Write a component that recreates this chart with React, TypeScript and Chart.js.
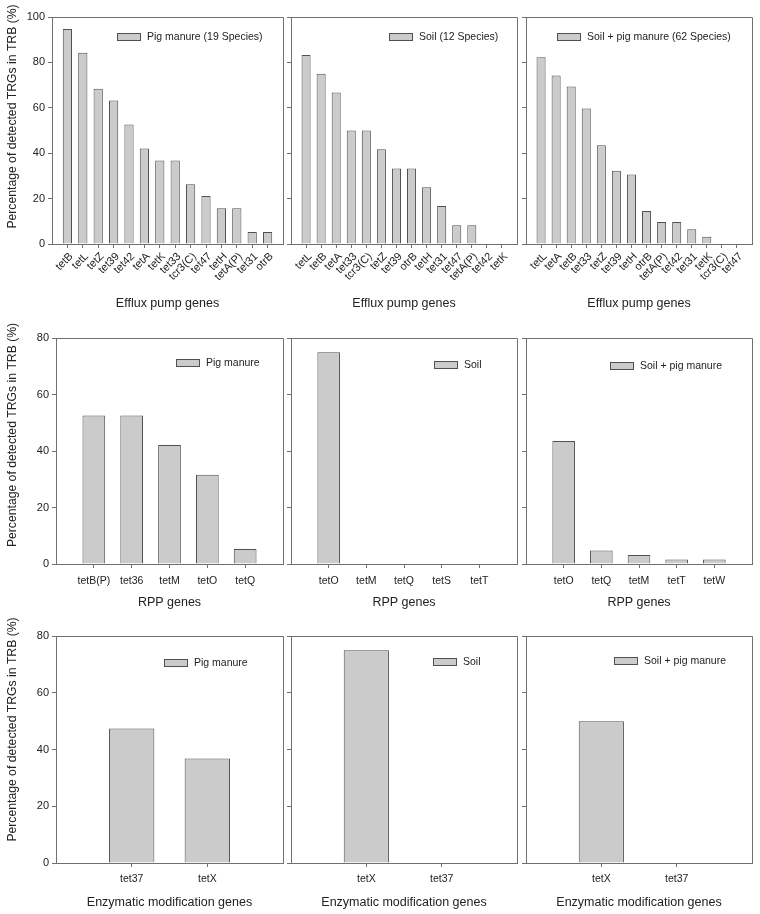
import React, { useEffect, useRef } from 'react';
import { Chart, registerables } from 'chart.js';

Chart.register(...registerables);

// ---------- Data ----------
// Row 1: efflux pump genes
const effluxPigGenes = ['tetB', 'tetL', 'tetZ', 'tet39', 'tet42', 'tetA', 'tetK', 'tet33', 'tcr3(C)', 'tet47', 'tetH', 'tetA(P)', 'tet31', 'otrB'];
const effluxPigValues = [94.7, 84.2, 68.4, 63.2, 52.6, 42.1, 36.8, 36.8, 26.3, 21.1, 15.8, 15.8, 5.3, 5.3];
const effluxSoilGenes = ['tetL', 'tetB', 'tetA', 'tet33', 'tcr3(C)', 'tetZ', 'tet39', 'otrB', 'tetH', 'tet31', 'tet47', 'tetA(P)', 'tet42', 'tetK'];
const effluxSoilValues = [83.3, 75.0, 66.7, 50.0, 50.0, 41.7, 33.3, 33.3, 25.0, 16.7, 8.3, 8.3, 0, 0];
const effluxMixGenes = ['tetL', 'tetA', 'tetB', 'tet33', 'tetZ', 'tet39', 'tetH', 'otrB', 'tetA(P)', 'tet42', 'tet31', 'tetK', 'tcr3(C)', 'tet47'];
const effluxMixValues = [82.3, 74.2, 69.4, 59.7, 43.5, 32.3, 30.6, 14.5, 9.7, 9.7, 6.5, 3.2, 0, 0];

// Row 2: ribosomal protection protein genes
const rppPigGenes = ['tetB(P)', 'tet36', 'tetM', 'tetO', 'tetQ'];
const rppPigValues = [52.6, 52.6, 42.1, 31.6, 5.3];
const rppSoilGenes = ['tetO', 'tetM', 'tetQ', 'tetS', 'tetT'];
const rppSoilValues = [75.0, 0, 0, 0, 0];
const rppMixGenes = ['tetO', 'tetQ', 'tetM', 'tetT', 'tetW'];
const rppMixValues = [43.5, 4.8, 3.2, 1.6, 1.6];

// Row 3: enzymatic modification genes
const enzPigGenes = ['tet37', 'tetX'];
const enzPigValues = [47.4, 36.8];
const enzSoilGenes = ['tetX', 'tet37'];
const enzSoilValues = [75.0, 0];
const enzMixGenes = ['tetX', 'tet37'];
const enzMixValues = [50.0, 0];

const legendRow1 = ['Pig manure (19 Species)', 'Soil (12 Species)', 'Soil + pig manure (62 Species)'];
const legendRows23 = ['Pig manure', 'Soil', 'Soil + pig manure'];
const xTitles = ['Efflux pump genes', 'RPP genes', 'Enzymatic modification genes'];
const yTitle = 'Percentage of detected TRGs in TRB (%)';
const yMaxByRow = [100, 80, 80];
const yStep = 20;

// ---------- Styling / layout ----------
const FONT = '"Liberation Sans", Arial, sans-serif';
const AXIS = '#707070';
const BAR_FILL = '#cbcbcb';
const BAR_BORDER = '#505050';
const TEXT = '#222222';

type RowLayout = {
  canvasTop: number; plotTop: number; canvasHeight: number; plotBottom: number;
  rotation: number; tickFont: number; tickLen: number; tickPad: number; labelOffset: number; yTitleShift: number;
};
const rows: RowLayout[] = [
  { canvasTop: 0, plotTop: 17, plotBottom: 244, canvasHeight: 311, rotation: 45, tickFont: 11, tickLen: 4, tickPad: 2, labelOffset: 4, yTitleShift: -14 },
  { canvasTop: 312, plotTop: 338, plotBottom: 564, canvasHeight: 298, rotation: 0, tickFont: 10.5, tickLen: 4, tickPad: 7, labelOffset: 0, yTitleShift: -16 },
  { canvasTop: 612, plotTop: 636, plotBottom: 863, canvasHeight: 298, rotation: 0, tickFont: 10.5, tickLen: 4, tickPad: 6, labelOffset: 0, yTitleShift: -20 },
];

type ColLayout = { canvasLeft: number; width: number; yAxisWidth: number[] };
const cols: ColLayout[] = [
  { canvasLeft: 0, width: 286, yAxisWidth: [52, 56, 56] },
  { canvasLeft: 262, width: 258, yAxisWidth: [29, 29, 29] },
  { canvasLeft: 497, width: 258, yAxisWidth: [29, 29, 29] },
];

// legend box offset relative to plot area (left, top)
const legendOffsets = [
  [[65, 16], [98, 16], [31, 16]],
  [[120, 21], [143, 23], [84, 24]],
  [[108, 23], [142, 22], [88, 21]],
];

type PanelSpec = { row: number; col: number; genes: string[]; values: number[]; legend: string };
const panels: PanelSpec[] = [
  { row: 0, col: 0, genes: effluxPigGenes, values: effluxPigValues, legend: legendRow1[0] },
  { row: 0, col: 1, genes: effluxSoilGenes, values: effluxSoilValues, legend: legendRow1[1] },
  { row: 0, col: 2, genes: effluxMixGenes, values: effluxMixValues, legend: legendRow1[2] },
  { row: 1, col: 0, genes: rppPigGenes, values: rppPigValues, legend: legendRows23[0] },
  { row: 1, col: 1, genes: rppSoilGenes, values: rppSoilValues, legend: legendRows23[1] },
  { row: 1, col: 2, genes: rppMixGenes, values: rppMixValues, legend: legendRows23[2] },
  { row: 2, col: 0, genes: enzPigGenes, values: enzPigValues, legend: legendRows23[0] },
  { row: 2, col: 1, genes: enzSoilGenes, values: enzSoilValues, legend: legendRows23[1] },
  { row: 2, col: 2, genes: enzMixGenes, values: enzMixValues, legend: legendRows23[2] },
];

const align = (p: number) => Math.round(p - 0.5) + 0.5;

const decorPlugin = {
  id: 'panelDecor',
  afterDraw(chart: any, _args: any, opts: any) {
    const { ctx, chartArea: a } = chart;
    ctx.save();
    // frame: top and right
    ctx.strokeStyle = AXIS;
    ctx.lineWidth = 1;
    ctx.beginPath();
    ctx.moveTo(align(a.left), align(a.top));
    ctx.lineTo(align(a.right), align(a.top));
    ctx.lineTo(align(a.right), align(a.bottom));
    ctx.stroke();
    // legend
    const bx = Math.round(a.left + opts.dx);
    const by = Math.round(a.top + opts.dy);
    const bw = 24, bh = 8;
    ctx.fillStyle = BAR_FILL;
    ctx.fillRect(bx, by, bw, bh);
    ctx.strokeStyle = BAR_BORDER;
    ctx.strokeRect(bx + 0.5, by + 0.5, bw - 1, bh - 1);
    ctx.fillStyle = TEXT;
    ctx.font = `10.5px ${FONT}`;
    ctx.textAlign = 'left';
    ctx.textBaseline = 'middle';
    ctx.fillText(opts.text, bx + bw + 6, by + bh / 2 + 0.5);
    // y title
    if (opts.yTitle) {
      ctx.translate(opts.yTitleX, (a.top + a.bottom) / 2 + opts.yTitleShift);
      ctx.rotate(-Math.PI / 2);
      ctx.font = `12.2px ${FONT}`;
      ctx.textAlign = 'center';
      ctx.textBaseline = 'middle';
      ctx.fillText(opts.yTitle, 0, 0);
    }
    ctx.restore();
  },
};

function Panel({ spec }: { spec: PanelSpec }) {
  const ref = useRef<HTMLCanvasElement>(null);
  const r = rows[spec.row];
  const c = cols[spec.col];
  useEffect(() => {
    const labels = ['', ...spec.genes, ''];
    const data = [null, ...spec.values, null];
    const n = labels.length;
    const [dx, dy] = legendOffsets[spec.row][spec.col];
    const chart = new Chart(ref.current as HTMLCanvasElement, {
      type: 'bar',
      data: {
        labels,
        datasets: [{
          data: data as any,
          backgroundColor: BAR_FILL,
          borderColor: BAR_BORDER,
          borderWidth: 1,
          barPercentage: 0.6,
          categoryPercentage: 1,
        }],
      },
      options: {
        animation: false,
        responsive: false,
        devicePixelRatio: 1,
        layout: { padding: { top: r.plotTop - r.canvasTop, right: 3, left: 0, bottom: 0 } },
        plugins: {
          legend: { display: false },
          tooltip: { enabled: false },
          panelDecor: {
            dx, dy, text: spec.legend,
            yTitle: spec.col === 0 ? yTitle : '',
            yTitleX: 13,
            yTitleShift: r.yTitleShift,
          },
        } as any,
        scales: {
          x: {
            type: 'category',
            offset: false,
            grid: {
              display: true,
              offset: false,
              drawOnChartArea: false,
              drawTicks: true,
              tickLength: r.tickLen,
              color: AXIS,
              tickColor: (ctx: any) => (ctx.index === 0 || ctx.index === n - 1 ? 'rgba(0,0,0,0)' : AXIS),
            },
            border: { display: true, color: AXIS, width: 1 },
            ticks: {
              autoSkip: false,
              maxRotation: r.rotation,
              minRotation: r.rotation,
              padding: r.tickPad,
              labelOffset: r.labelOffset,
              color: TEXT,
              font: { family: FONT, size: r.tickFont },
            },
            title: {
              display: true,
              text: xTitles[spec.row],
              color: TEXT,
              padding: 0,
              font: { family: FONT, size: 12.5 },
            },
            afterFit: (s: any) => {
              s.height = r.canvasHeight - (r.plotBottom - r.canvasTop);
              s.paddingLeft = 0;
              s.paddingRight = 0;
            },
          },
          y: {
            min: 0,
            max: yMaxByRow[spec.row],
            grid: {
              display: true,
              drawOnChartArea: false,
              drawTicks: true,
              tickLength: 4,
              color: AXIS,
            },
            border: { display: true, color: AXIS, width: 1 },
            ticks: {
              stepSize: yStep,
              padding: 3,
              color: TEXT,
              font: { family: FONT, size: 11 },
              callback: (v: any) => (spec.col === 0 ? String(v) : ''),
            },
            afterFit: (s: any) => { s.width = c.yAxisWidth[spec.row]; },
          },
        },
      },
      plugins: [decorPlugin as any],
    });
    return () => chart.destroy();
  }, []);
  return (
    <canvas
      ref={ref}
      width={c.width}
      height={r.canvasHeight}
      style={{ position: 'absolute', left: c.canvasLeft, top: r.canvasTop, width: c.width, height: r.canvasHeight }}
    />
  );
}

export default function App() {
  return (
    <div style={{ position: 'absolute', left: 0, top: 0, width: 760, height: 914, background: '#ffffff' }}>
      {panels.map((p, i) => (
        <Panel key={i} spec={p} />
      ))}
    </div>
  );
}
